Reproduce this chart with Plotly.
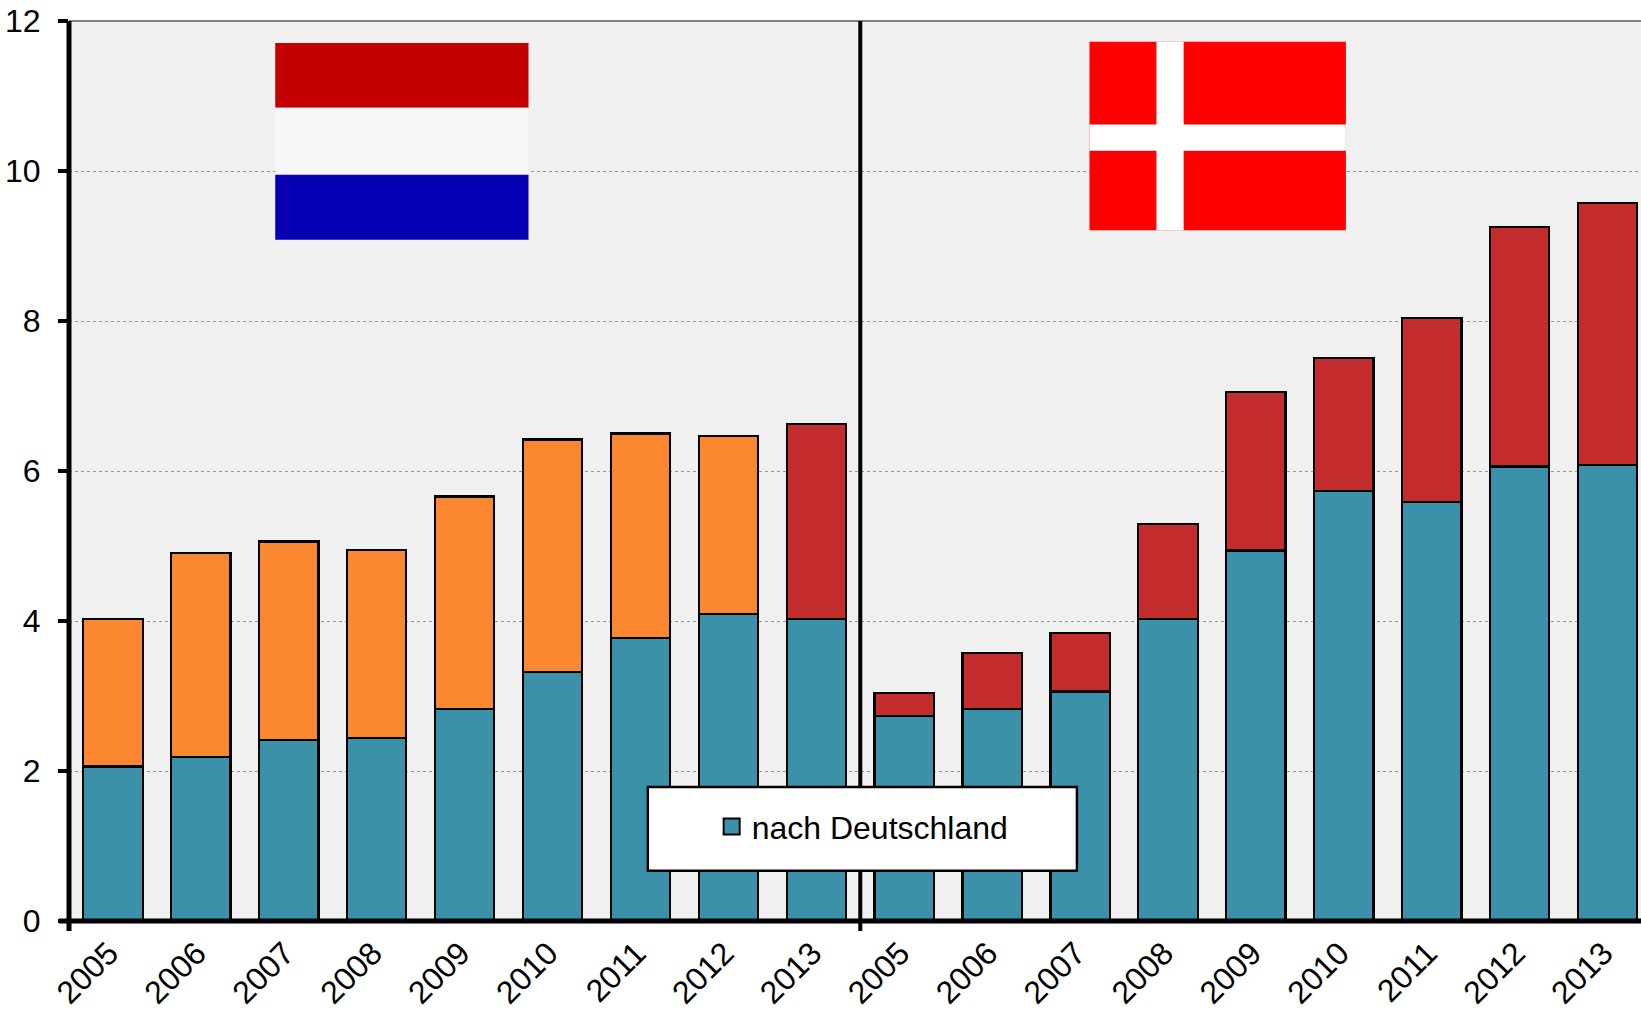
import plotly.graph_objects as go

years = ["2005","2006","2007","2008","2009","2010","2011","2012","2013"]
tick_labels = years + years
positions = list(range(18))
nach_deutschland = [2.06,2.19,2.41,2.44,2.83,3.32,3.77,4.09,4.03,
                    2.73,2.83,3.06,4.03,4.94,5.73,5.59,6.06,6.08]
upper_orange = [1.97,2.72,2.65,2.51,2.83,3.10,2.73,2.38]
upper_red = [2.60, 0.31,0.74,0.78,1.26,2.11,1.78,2.45,3.19,3.49]

TEAL, ORANGE, RED = "#3A91A9", "#FB8630", "#C32D2E"
W, H = 1641, 1012
L, T, B = 69, 21, 921
R = W
S = 1641/1568

def px(x): return (x*S - L)/(R - L)
def py(y): return (B - y*S)/(B - T)

def rect(x0, y0, x1, y1, fill, line=None, lw=0):
    return dict(type="rect", xref="paper", yref="paper", x0=px(x0), x1=px(x1),
                y0=py(y1), y1=py(y0), fillcolor=fill, layer="above",
                line=dict(color=line, width=lw) if line else dict(width=0))

line_style = dict(color="black", width=2.2)
fig = go.Figure()
fig.add_bar(x=positions, y=nach_deutschland, width=0.675, marker=dict(color=TEAL, line=line_style),
            showlegend=False, legendgroup="de", name="nach Deutschland")
fig.add_bar(x=positions[:8], y=upper_orange, width=0.675, marker=dict(color=ORANGE, line=line_style), showlegend=False)
fig.add_bar(x=positions[8:], y=upper_red, width=0.675, marker=dict(color=RED, line=line_style), showlegend=False)
fig.add_scatter(x=[None], y=[None], mode="markers", name="nach Deutschland", legendgroup="de",
                marker=dict(symbol="square", size=16, color=TEAL, line=dict(color="black", width=2)))

shapes = [
    dict(type="line", xref="paper", yref="paper", x0=0, x1=1, y0=1, y1=1, line=dict(color="#808080", width=2), layer="above"),
    dict(type="line", xref="x", yref="paper", x0=8.5, x1=8.5, y0=-0.011, y1=1, line=dict(color="black", width=4), layer="above"),
    dict(type="line", xref="paper", yref="paper", x0=0, x1=0, y0=-0.011, y1=1, line=dict(color="black", width=5), layer="above"),
    dict(type="line", xref="paper", yref="paper", x0=-10/(R-L), x1=1, y0=0, y1=0, line=dict(color="black", width=5), layer="above"),
    # Netherlands flag
    rect(263, 41, 505, 103, "#C40000"),
    rect(263, 103, 505, 167, "#F7F7F9"),
    rect(263, 167, 505, 229, "#0800B4"),
    # Denmark flag
    rect(1041, 40, 1286, 220, "#FF0000"),
    rect(1105, 40, 1131, 220, "#FFFFFF"),
    rect(1041, 119, 1286, 144, "#FFFFFF"),
    # legend panel
    rect(619, 752, 1029, 832, "#FFFFFF", "black", 2.4),
]

fig.update_layout(
    width=W, height=H, autosize=False,
    margin=dict(l=L, r=W-R, t=T, b=H-B, pad=0),
    paper_bgcolor="white", plot_bgcolor="#F0F0F0",
    barmode="stack",
    font=dict(family="Liberation Sans, Arial, sans-serif", size=32, color="black"),
    shapes=shapes,
    legend=dict(x=px(680), y=py(790), xanchor="left", yanchor="middle",
                bgcolor="rgba(0,0,0,0)", borderwidth=0, font=dict(size=32), itemsizing="trace",
                itemclick=False, itemdoubleclick=False),
    xaxis=dict(range=[-0.5, 17.38], tickmode="array", tickvals=positions, ticktext=tick_labels,
               tickangle=-45, ticks="", showgrid=False, zeroline=False, showline=False, automargin=False,
               ticklabelstandoff=6, ticklabelshift=-4, tickfont=dict(size=32)),
    yaxis=dict(range=[0, 12], tickmode="array", tickvals=[0,2,4,6,8,10,12],
               ticks="outside", ticklen=10, tickwidth=4, tickcolor="black", automargin=False,
               showgrid=True, gridcolor="#999999", gridwidth=1, griddash="dot", zeroline=False,
               showline=False, ticklabelstandoff=11, tickfont=dict(size=32)),
)
fig.write_html("out.html", config=dict(displayModeBar=False),
               post_script="document.body.style.margin='0';document.body.style.overflow='hidden';")
